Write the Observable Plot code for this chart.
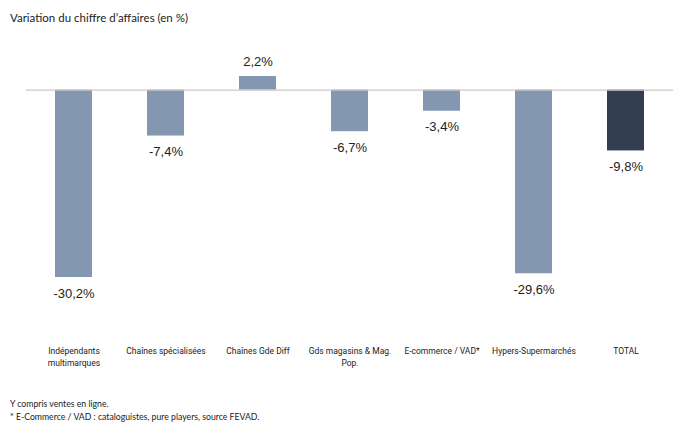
<!DOCTYPE html>
<html>
<head>
<meta charset="utf-8">
<script src="https://cdn.jsdelivr.net/npm/d3@7"></script>
<script src="https://cdn.jsdelivr.net/npm/@observablehq/plot@0.6"></script>
<style>
  body { margin: 0; background: #fff; width: 688px; height: 437px; overflow: hidden; }
  #title { font-family: Lato, "Open Sans", sans-serif; font-size: 11.5px; color: #222; padding: 11px 0 0 10px; height: 19px; line-height: 14px; }
  #notes { font-family: Lato, "Open Sans", sans-serif; font-size: 8.7px; color: #222; padding-left: 10px; margin-top: 22px; line-height: 13px; }
</style>
</head>
<body>
<div id="title">Variation du chiffre d’affaires (en %)</div>
<div id="chart"></div>
<div id="notes">Y compris ventes en ligne.<br>* E-Commerce / VAD : cataloguistes, pure players, source FEVAD.</div>
<script>
const categories = ["Indépendants\nmultimarques", "Chaînes spécialisées", "Chaînes Gde Diff", "Gds magasins & Mag.\nPop.", "E-commerce / VAD*", "Hypers-Supermarchés", "TOTAL"];
const values = [-30.2, -7.4, 2.2, -6.7, -3.4, -29.6, -9.8];
const labels = ["-30,2%", "-7,4%", "2,2%", "-6,7%", "-3,4%", "-29,6%", "-9,8%"];
const isTotal = [false, false, false, false, false, false, true];

const data = categories.map((c, i) => ({cat: c, v: values[i], label: labels[i], total: isTotal[i]}));
const neg = data.filter(d => d.v < 0);
const pos = data.filter(d => d.v >= 0);
const valueFont = {fontSize: 13, fontFamily: "Liberation Sans, Arial, sans-serif", fill: "#222", lineAnchor: "middle"};

const chart = Plot.plot({
  width: 688,
  height: 345,
  marginLeft: 26,
  marginRight: 15,
  marginTop: 46,
  marginBottom: 98,
  x: {domain: categories, paddingInner: 0.6, paddingOuter: 0.3, axis: null},
  y: {domain: [-30.2, 2.2], axis: null},
  marks: [
    Plot.barY(data, {x: "cat", y: "v", fill: d => d.total ? "#333f50" : "#8497b0"}),
    Plot.ruleY([0], {stroke: "#c9c9c9", strokeWidth: 1.3}),
    Plot.text(neg, {x: "cat", y: "v", text: "label", dy: 16, ...valueFont}),
    Plot.text(pos, {x: "cat", y: "v", text: "label", dy: -15, ...valueFont}),
    Plot.text(data, {x: "cat", frameAnchor: "bottom", text: "cat", lineAnchor: "top", dy: 68, fontSize: 8.5, lineHeight: 1.4, fontFamily: "Roboto, sans-serif", fill: "#222"})
  ]
});
document.getElementById("chart").appendChild(chart);
</script>
</body>
</html>
